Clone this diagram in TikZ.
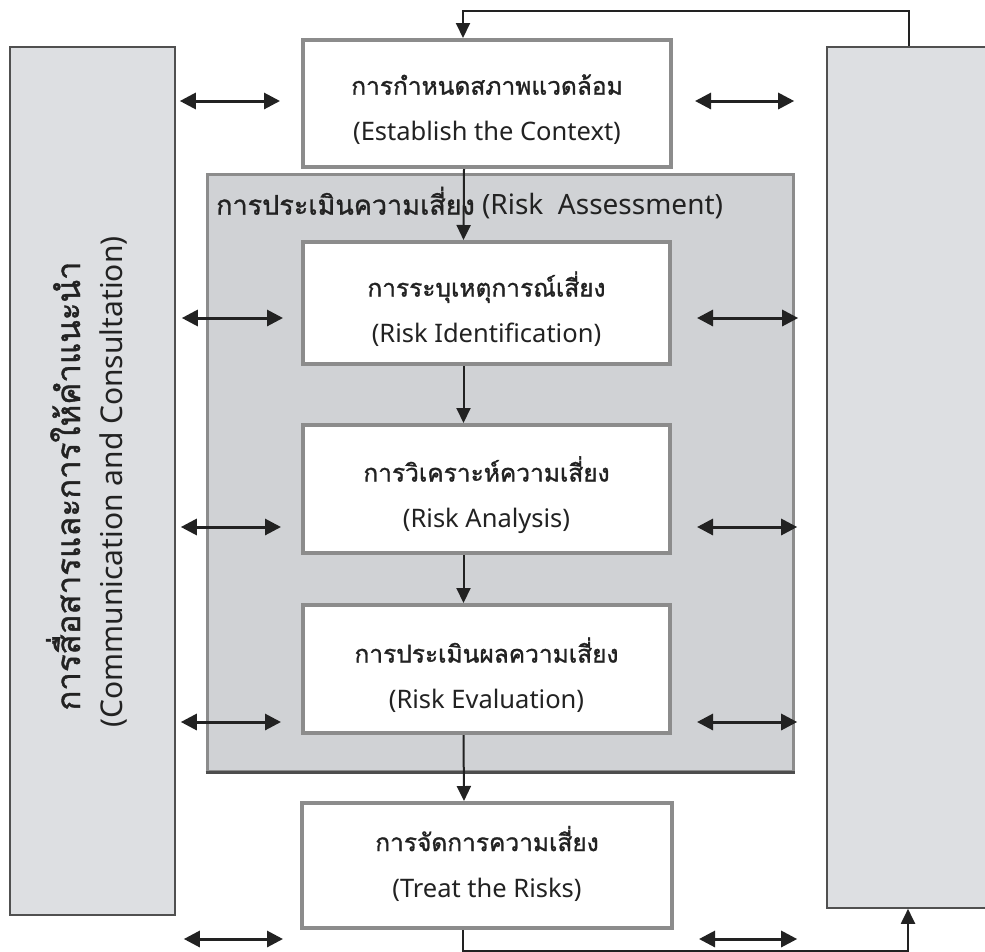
\documentclass[tikz,border=0pt]{standalone}
\usepackage{fontspec}
\setmainfont{Noto Sans}
\newfontfamily\thai[Script=Thai,FakeBold=1.2]{Loma}
\usetikzlibrary{arrows.meta,calc}
\definecolor{panelfill}{HTML}{DDDFE2}
\definecolor{rafill}{HTML}{D0D2D5}
\definecolor{boxline}{HTML}{8C8C8C}
\definecolor{panelline}{HTML}{505050}
\definecolor{ink}{HTML}{222222}
\tikzset{
  panel/.style={draw=panelline, line width=1.6pt, fill=panelfill, inner sep=0pt},
  stepbox/.style={draw=boxline, line width=4pt, fill=white, inner sep=0pt},
  steptext/.style={align=center, text=ink, inner sep=0pt, font=\fontsize{25.5}{46}\selectfont},
  rabox/.style={draw=boxline, line width=3pt, fill=rafill, inner sep=0pt},
  varr/.style={draw=ink, line width=2pt, -{Triangle[length=15pt,width=14pt]}},
  darr/.style={draw=ink, line width=3pt, {Triangle[length=16pt,width=16pt]}-{Triangle[length=16pt,width=16pt]}},
}
\newcommand{\thaitext}[1]{{\thai\fontsize{24.5}{46}\selectfont #1}}
\begin{document}
\begin{tikzpicture}[x=1pt,y=-1pt]
\useasboundingbox (0,0) rectangle (985,951);
% side panels
\node[panel, minimum width=165pt, minimum height=868pt] (lpanel) at (92.5,481) {};
\node[panel, minimum width=170pt, minimum height=861pt] (rpanel) at (912,477.5) {};
\node[rotate=90, anchor=base, text=ink, inner sep=0pt, font=\thai\fontsize{33}{36}\selectfont] (lpthai) at (80,486)
  {การสื่อสารและการให้คำแนะนำ};
\node[rotate=90, anchor=base, text=ink, inner sep=0pt, font=\fontsize{30}{36}\selectfont] (lpeng) at (122,482)
  {(Communication and Consultation)};
% risk assessment frame
\node[rabox, minimum width=586pt, minimum height=597pt] (ra) at (500,472.5) {};
\draw[boxline!55!black, line width=3pt] (ra.south west) -- (ra.south east);
\node[anchor=west, text=ink, inner sep=0pt, font=\fontsize{28}{30}\selectfont] (ratitle) at (216,203)
  {{\thai\fontsize{27}{30}\selectfont การประเมินความเสี่ยง} (Risk~ Assessment)};
% process boxes
\node[stepbox, minimum width=368pt, minimum height=127pt] (ctx) at (487,103.5) {};
\node[stepbox, minimum width=367pt, minimum height=122pt] (ri) at (486.5,303) {};
\node[stepbox, minimum width=367pt, minimum height=128pt] (ran) at (486.5,489) {};
\node[stepbox, minimum width=367pt, minimum height=128pt] (rev) at (486.5,669) {};
\node[stepbox, minimum width=370pt, minimum height=125pt] (treat) at (487,865.5) {};
\node[steptext] (ctxt) at ([yshift=-6pt]ctx.center)
  {\thaitext{การกำหนดสภาพแวดล้อม}\\(Establish the Context)};
\node[steptext] (rit) at ([yshift=-6pt]ri.center)
  {\thaitext{การระบุเหตุการณ์เสี่ยง}\\(Risk Identification)};
\node[steptext] (rant) at ([yshift=-6pt]ran.center)
  {\thaitext{การวิเคราะห์ความเสี่ยง}\\(Risk Analysis)};
\node[steptext] (revt) at ([yshift=-6pt]rev.center)
  {\thaitext{การประเมินผลความเสี่ยง}\\(Risk Evaluation)};
\node[steptext] (treatt) at ([yshift=2pt]treat.center)
  {\thaitext{การจัดการความเสี่ยง}\\(Treat the Risks)};
% vertical flow
\draw[varr] ([xshift=-23pt]ctx.south) -- ([xshift=-23pt]ri.north);
\draw[varr] ([xshift=-23pt]ri.south) -- ([xshift=-23pt]ran.north);
\draw[varr] ([xshift=-23pt]ran.south) -- ([xshift=-23pt]rev.north);
\draw[varr] ([xshift=-23pt]rev.south) -- ([xshift=-23pt]treat.north);
% feedback loops
\draw[varr] ([xshift=-3pt]rpanel.north) -- ++(0,-35) -| ([xshift=-24pt]ctx.north);
\draw[varr] ([xshift=-24pt]treat.south) -- ++(0,21) -| ([xshift=-4pt]rpanel.south);
% row coordinates
\coordinate (r1) at (0,101);
\coordinate (r2) at (0,318);
\coordinate (r3) at (0,527);
\coordinate (r4) at (0,722);
\coordinate (r5) at (0,939);
% left double arrows
\draw[darr] ($(lpanel.east |- r1)+(4,0)$) -- ($(ctx.west |- r1)+(-21,0)$);
\draw[darr] ($(lpanel.east |- r2)+(6,0)$) -- ($(ri.west |- r2)+(-18,0)$);
\draw[darr] ($(lpanel.east |- r3)+(5,0)$) -- ($(ran.west |- r3)+(-20,0)$);
\draw[darr] ($(lpanel.east |- r4)+(5,0)$) -- ($(rev.west |- r4)+(-20,0)$);
\draw[darr] ($(lpanel.east |- r5)+(8,0)$) -- ($(treat.west |- r5)+(-17,0)$);
% right double arrows
\draw[darr] ($(ctx.east |- r1)+(22,0)$) -- ($(rpanel.west |- r1)+(-32,0)$);
\draw[darr] ($(ri.east |- r2)+(25,0)$) -- ($(rpanel.west |- r2)+(-28,0)$);
\draw[darr] ($(ran.east |- r3)+(25,0)$) -- ($(rpanel.west |- r3)+(-29,0)$);
\draw[darr] ($(rev.east |- r4)+(25,0)$) -- ($(rpanel.west |- r4)+(-29,0)$);
\draw[darr] ($(treat.east |- r5)+(25,0)$) -- ($(rpanel.west |- r5)+(-29,0)$);
\end{tikzpicture}
\end{document}
